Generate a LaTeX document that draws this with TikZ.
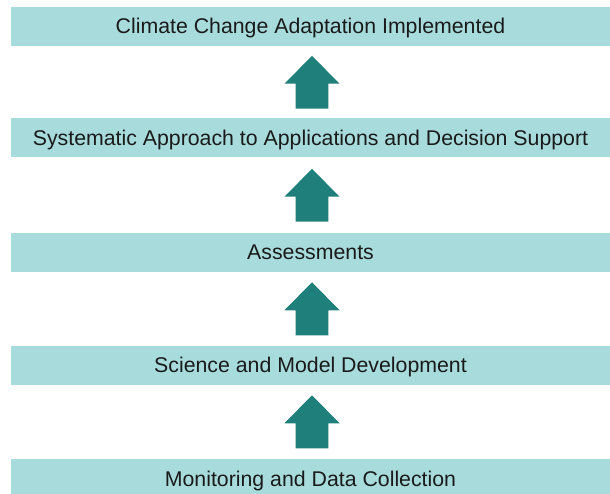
\documentclass[tikz,border=0pt]{standalone}
\usepackage{fontspec}
\setmainfont{Liberation Sans}
\usetikzlibrary{calc}
\definecolor{barfill}{HTML}{A8DCDC}
\definecolor{arrowfill}{HTML}{1F7F7A}
\definecolor{bartext}{HTML}{1A1A1A}

\begin{document}
\begin{tikzpicture}[x=1pt,y=1pt,
        bar/.style={fill=barfill, text=bartext, minimum width=599pt, minimum height=39pt, inner sep=0pt,
            text height=15pt, text depth=0pt, font=\fontsize{21.3}{25}\selectfont}]
        \useasboundingbox (0,0) rectangle (610,493);

        \node[bar] (b1) at (310.5,466.5) {Climate Change Adaptation Implemented};
        \node[bar] (b2) at (310.5,355) {Systematic Approach to Applications and Decision Support};
        \node[bar] (b3) at (310.5,240.5) {Assessments};
        \node[bar] (b4) at (310.5,128) {Science and Model Development};
        \node[bar] (b5) at (310.5,14.5) {Monitoring and Data Collection};

        \foreach \lo/\hi in {b2/b1,b3/b2,b4/b3,b5/b4}
        {
            \coordinate (m) at ($(\lo.north)!0.5!(\hi.south)+(1.5,0)$);
            \fill[arrowfill] ($(m)+(-16.3,-26.5)$) -- ($(m)+(16.3,-26.5)$) -- ($(m)+(16.3,-1.5)$)
                -- ($(m)+(27.5,-1.5)$) -- ($(m)+(0,26.5)$) -- ($(m)+(-27.5,-1.5)$)
                -- ($(m)+(-16.3,-1.5)$) -- cycle;
        }
    \end{tikzpicture}
\end{document}
